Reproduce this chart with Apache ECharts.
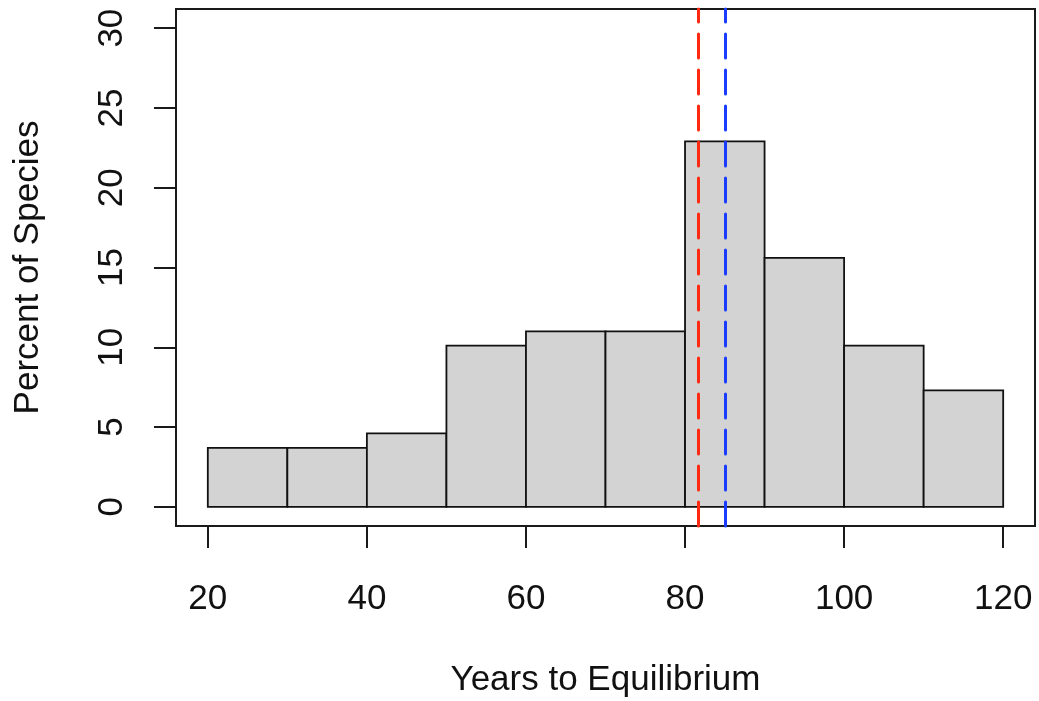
<!DOCTYPE html>
<html>
<head>
<meta charset="utf-8">
<script src="https://cdn.jsdelivr.net/npm/echarts@6/dist/echarts.min.js"></script>
<style>
html,body{margin:0;padding:0;background:#fff;}
#c{width:1039px;height:701px;}
</style>
</head>
<body>
<div id="c"></div>
<script>
// Histogram bin edges (years) and bar heights (percent of species)
const binEdges = [20, 30, 40, 50, 60, 70, 80, 90, 100, 110, 120];
const percents = [3.7, 3.7, 4.6, 10.1, 11.0, 11.0, 22.9, 15.6, 10.1, 7.3];
// Reference vertical lines (years): red then blue
const refLineValues = [81.7, 85.0];
// Tick labels
const xTicks = [20, 40, 60, 80, 100, 120];
const yTicks = [0, 5, 10, 15, 20, 25, 30];
const xTitle = 'Years to Equilibrium';
const yTitle = 'Percent of Species';

const barData = percents.map((p, i) => [binEdges[i], binEdges[i + 1], p]);
const FONT = '"Liberation Sans", Arial, Helvetica, sans-serif';
const refColors = ['#ff2a10', '#1a3cff'];

const chart = echarts.init(document.getElementById('c'), null, {renderer: 'canvas'});
chart.setOption({
  animation: false,
  backgroundColor: '#fff',
  grid: {
    left: 176, right: 4, top: 9, bottom: 175,
    containLabel: false, outerBoundsMode: 'none',
    show: true, borderColor: '#1a1a1a', borderWidth: 2, backgroundColor: 'transparent'
  },
  xAxis: {
    type: 'value', min: 16, max: 124,
    axisLine: {show: false, onZero: false},
    splitLine: {show: false},
    axisTick: {show: true, inside: false, length: 22, lineStyle: {color: '#1a1a1a', width: 2}, customValues: xTicks},
    axisLabel: {
      show: true, customValues: xTicks, margin: 56,
      fontFamily: FONT, fontSize: 35, color: '#111'
    },
    name: xTitle, nameLocation: 'middle', nameGap: 137,
    nameTextStyle: {fontFamily: FONT, fontSize: 35, color: '#111'}
  },
  yAxis: {
    type: 'value', min: -1.2, max: 31.2,
    axisLine: {show: false, onZero: false},
    splitLine: {show: false},
    axisTick: {show: true, inside: false, length: 22, lineStyle: {color: '#1a1a1a', width: 2}, customValues: yTicks},
    axisLabel: {
      show: true, customValues: yTicks, rotate: 90, margin: 46,
      fontFamily: FONT, fontSize: 35, color: '#111'
    },
    name: yTitle, nameLocation: 'middle', nameGap: 130,
    nameTextStyle: {fontFamily: FONT, fontSize: 35, color: '#111'}
  },
  series: [{
    type: 'custom',
    data: barData,
    encode: {x: [0, 1], y: 2},
    renderItem: function (params, api) {
      const p0 = api.coord([api.value(0), api.value(2)]);
      const p1 = api.coord([api.value(1), 0]);
      return {
        type: 'rect',
        shape: {x: p0[0], y: p0[1], width: p1[0] - p0[0], height: p1[1] - p0[1]},
        style: {fill: '#d3d3d3', stroke: '#111', lineWidth: 1.8}
      };
    },
    markLine: {
      silent: true,
      symbol: 'none',
      label: {show: false},
      animation: false,
      data: refLineValues.map((v, i) => ({
        xAxis: v,
        lineStyle: {color: refColors[i], width: 3, type: [24, 12], cap: 'round', opacity: 1}
      }))
    }
  }]
});
</script>
</body>
</html>
